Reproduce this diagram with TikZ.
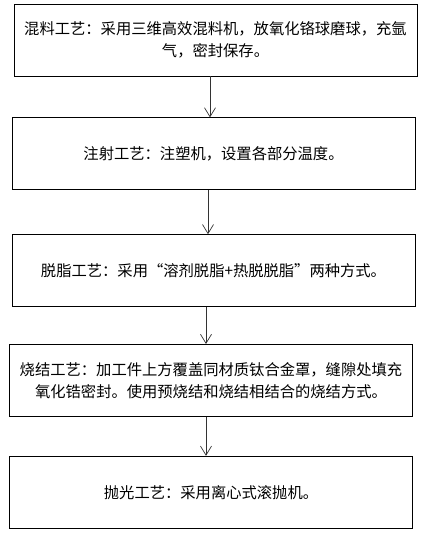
\documentclass[tikz,border=0pt]{standalone}
\usepackage{fontspec}
\newfontfamily\cjk{Noto Sans CJK SC}
\usetikzlibrary{positioning,arrows.meta}

\begin{document}
\begin{tikzpicture}[x=1pt,y=1pt,
    stepbox/.style={draw, line width=0.8pt, minimum width=403pt, minimum height=72pt,
        inner sep=0pt, text width=400pt, align=center,
        font=\cjk\fontsize{15.3}{22}\selectfont},
    flow/.style={-{Straight Barb[length=9pt,width=11pt]}, line width=0.7pt, draw=black!80}]
    \useasboundingbox (0,0) rectangle (422,-535);
    \node[stepbox] (mix) at (215.5,-40) {混料工艺：采用三维高效混料机，放氧化铬球磨球，充氩\\气，密封保存。};
    \node[stepbox, below=41pt of mix, xshift=-2pt] (inject) {注射工艺：注塑机，设置各部分温度。};
    \node[stepbox, below=44pt of inject] (debind) {脱脂工艺：采用“溶剂脱脂+热脱脱脂”两种方式。};
    \node[stepbox, below=37pt of debind, xshift=-2.5pt] (sinter) {烧结工艺：加工件上方覆盖同材质钛合金罩，缝隙处填充\\氧化锆密封。使用预烧结和烧结相结合的烧结方式。};
    \node[stepbox, below=39pt of sinter] (polish) {抛光工艺：采用离心式滚抛机。};
    \draw[flow] ([xshift=-5.5pt]mix.south) -- ([xshift=-5.5pt]mix.south |- inject.north);
    \draw[flow] ([xshift=-5.5pt]inject.south) -- ([xshift=-5.5pt]inject.south |- debind.north);
    \draw[flow] ([xshift=-7.5pt]debind.south) -- ([xshift=-7.5pt]debind.south |- sinter.north);
    \draw[flow] ([xshift=-5pt]sinter.south) -- ([xshift=-5pt]sinter.south |- polish.north);
\end{tikzpicture}
\end{document}
